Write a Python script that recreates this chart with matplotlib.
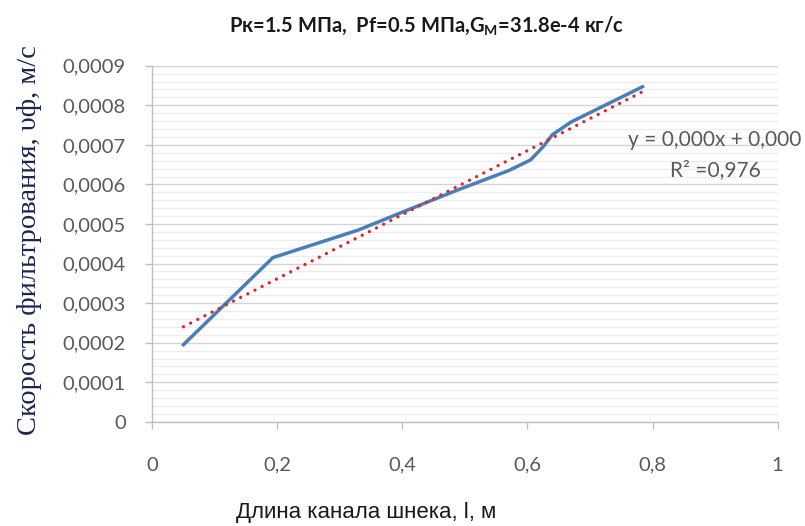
import numpy as np
import matplotlib.pyplot as plt
from matplotlib.ticker import MultipleLocator, FuncFormatter

# Данные
dlina = [0.05, 0.193, 0.33, 0.40, 0.49, 0.57, 0.605, 0.625, 0.64, 0.67, 0.784]
skorost = [0.000195, 0.000415, 0.000485, 0.000530, 0.000587, 0.000635,
           0.000662, 0.000695, 0.000726, 0.000758, 0.000847]

x_ticks = [0, 0.2, 0.4, 0.6, 0.8, 1]
y_ticks = [0, 0.0001, 0.0002, 0.0003, 0.0004, 0.0005, 0.0006, 0.0007, 0.0008, 0.0009]

eq_text = 'y = 0,000x + 0,000'
r2_text = 'R² =0,976'

fig = plt.figure(figsize=(8.05, 5.26), dpi=100)
ax = fig.add_axes([0.189, 0.198, 0.777, 0.677])

# Линия данных
ax.plot(dlina, skorost, color='#4a7ebb', linewidth=2.5, solid_joinstyle='round', zorder=3)

# Линейный тренд
k, b = np.polyfit(dlina, skorost, 1)
xt = np.array([dlina[0], dlina[-1]])
ax.plot(xt, k * xt + b, color='#e0262a', linestyle=(0, (0.01, 2.4)), linewidth=2.4,
        dash_capstyle='round', zorder=4)

ax.set_xlim(0, 1)
ax.set_ylim(0, 0.0009)
ax.set_xticks(x_ticks)
ax.set_yticks(y_ticks)
ax.yaxis.set_minor_locator(MultipleLocator(0.00002))

fmt = lambda v, p: '0' if v == 0 else ('1' if v == 1 else (f'{v:.4f}' if v < 0.01 else f'{v:.1f}').replace('.', ','))
ax.xaxis.set_major_formatter(FuncFormatter(fmt))
ax.yaxis.set_major_formatter(FuncFormatter(fmt))

ax.grid(True, which='major', axis='y', color='#d4d4d4', linewidth=1.0)
ax.grid(True, which='minor', axis='y', color='#ececec', linewidth=0.8)
ax.set_axisbelow(True)

for s in ['top', 'right']:
    ax.spines[s].set_visible(False)
for s in ['left', 'bottom']:
    ax.spines[s].set_color('#bfbfbf')
    ax.spines[s].set_linewidth(1.0)

ax.tick_params(axis='both', which='major', color='#bfbfbf', length=5, width=1,
               labelcolor='#595959', labelsize=14.5)
ax.tick_params(axis='y', which='minor', length=0)
ax.tick_params(axis='x', pad=20)
ax.tick_params(axis='y', pad=14)
for lab in ax.get_xticklabels() + ax.get_yticklabels():
    lab.set_family(['Lato', 'DejaVu Sans'])

ax.text(0.90, 0.000713, eq_text, ha='center', va='center', fontsize=15,
        color='#595959', family=['Lato', 'DejaVu Sans'])
ax.text(0.90, 0.000637, r2_text, ha='center', va='center', fontsize=15,
        color='#595959', family=['Lato', 'DejaVu Sans'])

fig.text(0.53, 0.952, 'Pк=1.5 МПа,  Pf=0.5 МПа,G$_\\mathregular{M}$=31.8e-4 кг/с',
         ha='center', va='center', fontsize=14.5, fontweight='bold',
         family=['Lato', 'DejaVu Sans'], color='#1a1a1a')

ax.set_ylabel('Скорость фильтрования, υф, м/с', fontsize=20.5,
              family=['Liberation Serif', 'DejaVu Serif'], color='#1c2550')
ax.yaxis.set_label_coords(-0.176, 0.51)

ax.set_xlabel('Длина канала шнека, l, м', fontsize=16,
              family=['Liberation Sans Narrow', 'Liberation Sans', 'DejaVu Sans'],
              color='#1a1a1a')
ax.xaxis.set_label_coords(0.342, -0.225)

fig.savefig('out.png', dpi=100)
